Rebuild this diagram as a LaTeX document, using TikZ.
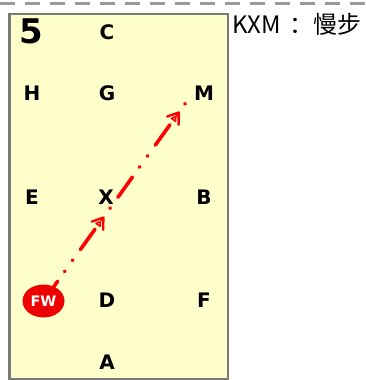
\documentclass[tikz,border=0pt]{standalone}
\usepackage{fontspec}
\setmainfont{DejaVu Sans}
\newfontfamily\cjkfont{Noto Sans CJK SC}
\usetikzlibrary{shapes.geometric,arrows.meta,decorations.markings}
\definecolor{arena}{HTML}{FFFFCC}
\definecolor{rimgray}{HTML}{7A7A7A}
\definecolor{topdash}{HTML}{9A9A9A}
\definecolor{pathred}{HTML}{FF0000}
\definecolor{fwred}{HTML}{EE0000}
\begin{document}
\begin{tikzpicture}[x=1pt,y=-1pt,
  letter/.style={font=\bfseries\fontsize{20}{20}\selectfont, inner sep=0pt, text=black},
  bignum/.style={font=\bfseries\fontsize{34}{34}\selectfont, inner sep=0pt, text=black},
  fwnode/.style={ellipse, fill=fwred, draw=none, minimum width=42pt, minimum height=33pt,
    inner sep=0pt, text=white, font=\bfseries\fontsize{14.5}{14.5}\selectfont},
  routeline/.style={pathred, line width=3.6pt, line cap=round,
    dash pattern=on 25pt off 12pt on 0.6pt off 13pt on 0.6pt off 13pt, dash phase=18.7pt},
  ymark/.style={pathred, line width=2.4pt, line cap=round, line join=round},
  routearrows/.style={decorate, decoration={markings,
    mark=at position 0.358 with {\draw[ymark] (-10pt,7pt) -- (0pt,0pt) -- (-10pt,-7pt);
       \draw[ymark, line width=1.6pt] (-9pt,2.5pt) -- (-5pt,0pt) -- (-9pt,-2.5pt) -- cycle;},
    mark=at position 0.904 with {\draw[ymark] (-10pt,7pt) -- (0pt,0pt) -- (-10pt,-7pt);
       \draw[ymark, line width=1.6pt] (-9pt,2.5pt) -- (-5pt,0pt) -- (-9pt,-2.5pt) -- cycle;}}},
  titletext/.style={font=\cjkfont\fontsize{24}{24}\selectfont, inner sep=0pt, anchor=west}
]
\useasboundingbox (0,0) rectangle (366,380);
\draw[topdash, line width=3pt, dash pattern=on 15pt off 10pt] (0,3.5) -- (366,3.5);
\path[fill=arena, draw=rimgray, line width=2.5pt] (9.5,14) rectangle (228,379);

\node[bignum] (five) at (31,31) {5};
\node[letter] (C) at (107,32) {C};
\node[letter] (H) at (32,93) {H};
\node[letter] (G) at (107,93) {G};
\node[letter] (M) at (204,93) {M};
\node[letter] (E) at (32,197) {E};
\node[letter] (X) at (106,197) {X};
\node[letter] (B) at (204,197) {B};
\node[letter] (K) at (32,300) {K};
\node[letter] (D) at (107,300) {D};
\node[letter] (F) at (204,300) {F};
\node[letter] (A) at (107,362) {A};

\node[fwnode] (fw) at (43.5,301) {FW};
\coordinate (mend) at (192,94);
\draw[routeline] (fw) -- (mend);
\path[routearrows] (fw) -- (mend);

\node[titletext] (title) at (232,24) {KXM\kern9pt：慢步};
\end{tikzpicture}
\end{document}
